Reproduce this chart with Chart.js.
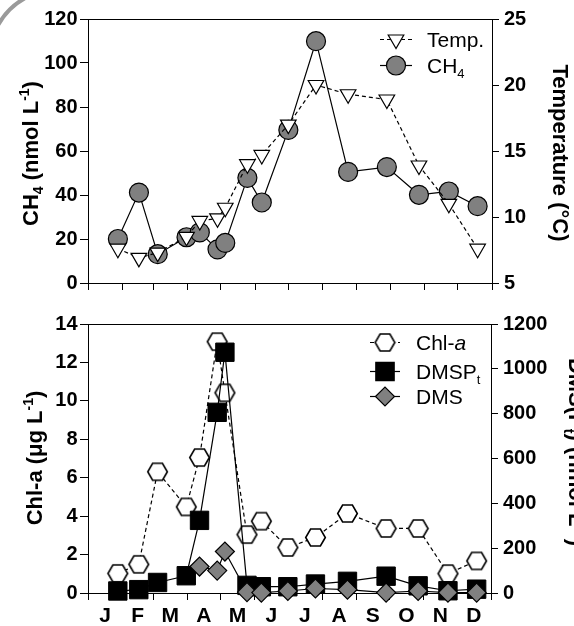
<!DOCTYPE html>
<html>
<head>
<meta charset="utf-8">
<script src="https://cdn.jsdelivr.net/npm/chart.js@4.4.1/dist/chart.umd.min.js"></script>
<style>
  html, body { margin: 0; padding: 0; background: #fff; }
  #wrap { position: relative; width: 574px; height: 626px; overflow: hidden; }
  canvas { position: absolute; left: 0; }
</style>
</head>
<body>
<div id="wrap">
  <canvas id="topChart" width="574" height="300" style="top:0"></canvas>
  <canvas id="bottomChart" width="574" height="326" style="top:300px"></canvas>
</div>
<script>
const FONT = "'Liberation Sans', Arial, Helvetica, sans-serif";

// sampling dates (day of year) and month boundaries
const sampleDays = [27, 46, 63, 89, 101, 117, 124, 144, 157, 181, 206, 235, 270, 299, 326, 352];
const monthStarts = [0, 31, 59, 90, 120, 151, 181, 212, 243, 273, 304, 334, 365];
const monthNames = ["J", "F", "M", "A", "M", "J", "J", "A", "S", "O", "N", "D"];

// top panel
const ch4 = [20.0, 41.1, 13.1, 20.8, 23.0, 15.3, 18.2, 47.8, 36.6, 69.6, 109.9, 50.5, 52.7, 40.1, 41.6, 34.9];
const temp = [7.6, 6.9, 7.3, 8.5, 9.7, 9.9, 10.7, 14.0, 14.7, 17.0, 20.0, 19.3, 18.9, 13.9, 11.0, 7.6];

// bottom panel
const chla = [1.02, 1.49, 6.31, 4.48, 7.05, 13.08, 10.42, 3.04, 3.74, 2.37, 2.89, 4.14, 3.36, 3.36, 1.01, 1.67];
const dmspt = [9, 15, 47, 77, 324, 806, 1074, 34, 28, 28, 40, 52, 75, 32, 10, 17];
const dms = [null, null, null, null, 118, 100, 185, 4, 2, 9, 20, 15, 2, 9, 2, 2];

const pts = (vals) => sampleDays.map((d, i) => ({ x: d, y: vals[i] }));

function hexagon(R) {
  const c = document.createElement("canvas");
  c.width = 23; c.height = 23;
  const g = c.getContext("2d");
  g.beginPath();
  for (let k = 0; k < 6; k++) {
    const a = k * Math.PI / 3;
    const px = 11.5 + R * Math.cos(a), py = 11.5 + R * Math.sin(a);
    k ? g.lineTo(px, py) : g.moveTo(px, py);
  }
  g.closePath();
  g.fillStyle = "#fff"; g.fill();
  g.lineWidth = 1.6; g.strokeStyle = "#000"; g.stroke();
  return c;
}
const hexImg = hexagon(9.8);

// text with sub/superscripts, centred vertically on (cx, cy)
function drawRich(ctx, parts, cx, cy, angle, size, weight, align) {
  ctx.save();
  ctx.translate(cx, cy);
  ctx.rotate(angle);
  ctx.textBaseline = "alphabetic";
  ctx.textAlign = "left";
  ctx.fillStyle = "#000";
  const fontFor = (p) => (p.italic ? "italic " : "") + weight + " " + (p.pos ? Math.round(size * 0.64) : size) + "px " + FONT;
  let total = 0;
  parts.forEach((p) => { ctx.font = fontFor(p); total += ctx.measureText(p.t).width; });
  let x = align === "left" ? 0 : -total / 2;
  const base = size * 0.716 / 2;
  parts.forEach((p) => {
    ctx.font = fontFor(p);
    let dy = 0;
    if (p.pos === "sub") dy = size * 0.22;
    if (p.pos === "sup") dy = -size * 0.42;
    ctx.fillText(p.t, x, base + dy);
    x += ctx.measureText(p.t).width;
  });
  ctx.restore();
}

function legendRow(ctx, y, x0, x1, mx, tx, st, parts) {
  ctx.save();
  ctx.strokeStyle = "#000";
  ctx.lineWidth = 1.2;
  ctx.setLineDash(st.dash || []);
  ctx.beginPath(); ctx.moveTo(x0, y); ctx.lineTo(x1, y); ctx.stroke();
  ctx.setLineDash([]);
  ctx.fillStyle = st.fill || "#fff";
  ctx.lineWidth = 1.2;
  Chart.helpers.drawPoint(ctx, { pointStyle: st.pointStyle, radius: st.radius, rotation: st.rotation || 0, borderWidth: 1 }, mx, y);
  ctx.restore();
  drawRich(ctx, parts, tx, y, 0, 21, "normal", "left");
}

function frameTop(chart) {
  const ctx = chart.ctx, a = chart.chartArea;
  ctx.save();
  ctx.strokeStyle = "#000"; ctx.lineWidth = 1;
  ctx.beginPath(); ctx.moveTo(a.left, Math.round(a.top) + 0.5); ctx.lineTo(a.right, Math.round(a.top) + 0.5); ctx.stroke();
  ctx.restore();
}

function monthAxis(showLabels, height) {
  const mids = monthNames.map((m, i) => (monthStarts[i] + monthStarts[i + 1]) / 2);
  return {
    type: "linear", min: 0, max: 365,
    afterBuildTicks: (s) => {
      const vals = showLabels ? monthStarts.concat(mids).sort((a, b) => a - b) : monthStarts;
      s.ticks = vals.map((v) => ({ value: v }));
    },
    ticks: {
      display: showLabels, autoSkip: false, maxRotation: 0, minRotation: 0, padding: 4, color: "#000",
      font: { family: FONT, size: 21, weight: "bold" },
      callback: (v) => { const i = mids.indexOf(v); return i < 0 ? "" : monthNames[i]; },
    },
    grid: {
      drawOnChartArea: false, tickLength: 7, lineWidth: 1,
      color: (c) => (c.tick && monthStarts.includes(c.tick.value) ? "#000" : "rgba(0,0,0,0)"),
    },
    border: { color: "#000", width: 1 },
    afterFit: (s) => { s.height = height; },
  };
}

function valueAxis(pos, min, max, step, width, tickLen, pad) {
  return {
    position: pos, min: min, max: max,
    ticks: {
      stepSize: step, padding: pad, color: "#000",
      font: { family: FONT, size: 20, weight: "bold" },
      callback: (v) => String(v),
    },
    grid: { drawOnChartArea: false, tickLength: tickLen, color: "#000", lineWidth: 1 },
    border: { color: "#000", width: 1 },
    afterFit: (s) => { s.width = width; },
  };
}

const baseOptions = (top) => ({
  responsive: false, animation: false, devicePixelRatio: 1, events: [],
  layout: { padding: { top: top, left: 0, right: 0, bottom: 0 } },
  plugins: { legend: { display: false }, tooltip: { enabled: false } },
});

const topDeco = {
  id: "topDeco",
  afterDraw(chart) {
    const ctx = chart.ctx;
    frameTop(chart);
    // grey arc in the corner of the scan
    ctx.save();
    ctx.strokeStyle = "#9a9a9a"; ctx.lineWidth = 4;
    ctx.beginPath(); ctx.arc(60, 60, 71, -2.75, -1.95); ctx.stroke();
    ctx.restore();
    drawRich(ctx, [{ t: "CH" }, { t: "4", pos: "sub" }, { t: " (nmol L" }, { t: "-1", pos: "sup" }, { t: ")" }],
      30, 153.5, -Math.PI / 2, 22, "bold");
    drawRich(ctx, [{ t: "Temperature (°C)" }], 561, 153, Math.PI / 2, 22, "bold");
    legendRow(ctx, 39.5, 380, 412, 396, 427, { dash: [4, 3], pointStyle: "triangle", rotation: 180, radius: 9, fill: "#fff" }, [{ t: "Temp." }]);
    legendRow(ctx, 65.5, 380, 412, 396, 427, { pointStyle: "circle", radius: 9.5, fill: "#808080" }, [{ t: "CH" }, { t: "4", pos: "sub" }]);
  },
};

const bottomDeco = {
  id: "bottomDeco",
  afterDraw(chart) {
    const ctx = chart.ctx;
    frameTop(chart);
    drawRich(ctx, [{ t: "Chl-a (μg L" }, { t: "-1", pos: "sup" }, { t: ")" }], 34, 158, -Math.PI / 2, 22, "bold");
    drawRich(ctx, [{ t: "DMS(P" }, { t: "t", pos: "sub" }, { t: ") (nmol L" }, { t: "-1", pos: "sup" }, { t: ")" }],
      577, 152, Math.PI / 2, 22, "bold");
    legendRow(ctx, 42.5, 370, 400, 385, 416, { dash: [4, 3], pointStyle: hexImg, radius: 9 }, [{ t: "Chl-" }, { t: "a", italic: true }]);
    legendRow(ctx, 71.5, 370, 400, 385, 416, { pointStyle: "rect", radius: 13, fill: "#000" }, [{ t: "DMSP" }, { t: "t", pos: "sub" }]);
    legendRow(ctx, 96.5, 370, 400, 385, 416, { pointStyle: "rectRot", radius: 9.5, fill: "#808080" }, [{ t: "DMS" }]);
  },
};

new Chart(document.getElementById("topChart"), {
  type: "line",
  data: {
    datasets: [
      {
        label: "Temp.", data: pts(temp), yAxisID: "yT", order: 1, clip: false,
        borderColor: "#000", borderWidth: 1.2, borderDash: [4, 3], tension: 0,
        pointStyle: "triangle", pointRotation: 180, pointRadius: 9,
        pointBackgroundColor: "#fff", pointBorderColor: "#000", pointBorderWidth: 1.2,
      },
      {
        label: "CH4", data: pts(ch4), yAxisID: "y", order: 2, clip: false,
        borderColor: "#000", borderWidth: 1.2, tension: 0,
        pointStyle: "circle", pointRadius: 9.5,
        pointBackgroundColor: "#808080", pointBorderColor: "#000", pointBorderWidth: 1.2,
      },
    ],
  },
  options: Object.assign(baseOptions(19), {
    scales: {
      x: monthAxis(false, 12),
      y: valueAxis("left", 0, 120, 20, 88, 8, 2.5),
      yT: valueAxis("right", 5, 25, 5, 82, 7, 5),
    },
  }),
  plugins: [topDeco],
});

new Chart(document.getElementById("bottomChart"), {
  type: "line",
  data: {
    datasets: [
      {
        label: "Chl-a", data: pts(chla), yAxisID: "y", order: 3, clip: false,
        borderColor: "#000", borderWidth: 1.2, borderDash: [4, 3], tension: 0,
        pointStyle: hexImg, pointRadius: 9,
      },
      {
        label: "DMSPt", data: pts(dmspt), yAxisID: "yR", order: 2, clip: false,
        borderColor: "#000", borderWidth: 1.2, tension: 0,
        pointStyle: "rect", pointRadius: 13,
        pointBackgroundColor: "#000", pointBorderColor: "#000", pointBorderWidth: 1,
      },
      {
        label: "DMS", data: pts(dms), yAxisID: "yR", order: 1, clip: false,
        borderColor: "#000", borderWidth: 1.2, tension: 0,
        pointStyle: "rectRot", pointRadius: 9.5,
        pointBackgroundColor: "#808080", pointBorderColor: "#000", pointBorderWidth: 1.2,
      },
    ],
  },
  options: Object.assign(baseOptions(24), {
    scales: {
      x: monthAxis(true, 33),
      y: valueAxis("left", 0, 14, 2, 88, 8, 2.5),
      yR: valueAxis("right", 0, 1200, 200, 83, 7, 5),
    },
  }),
  plugins: [bottomDeco],
});
</script>
</body>
</html>
